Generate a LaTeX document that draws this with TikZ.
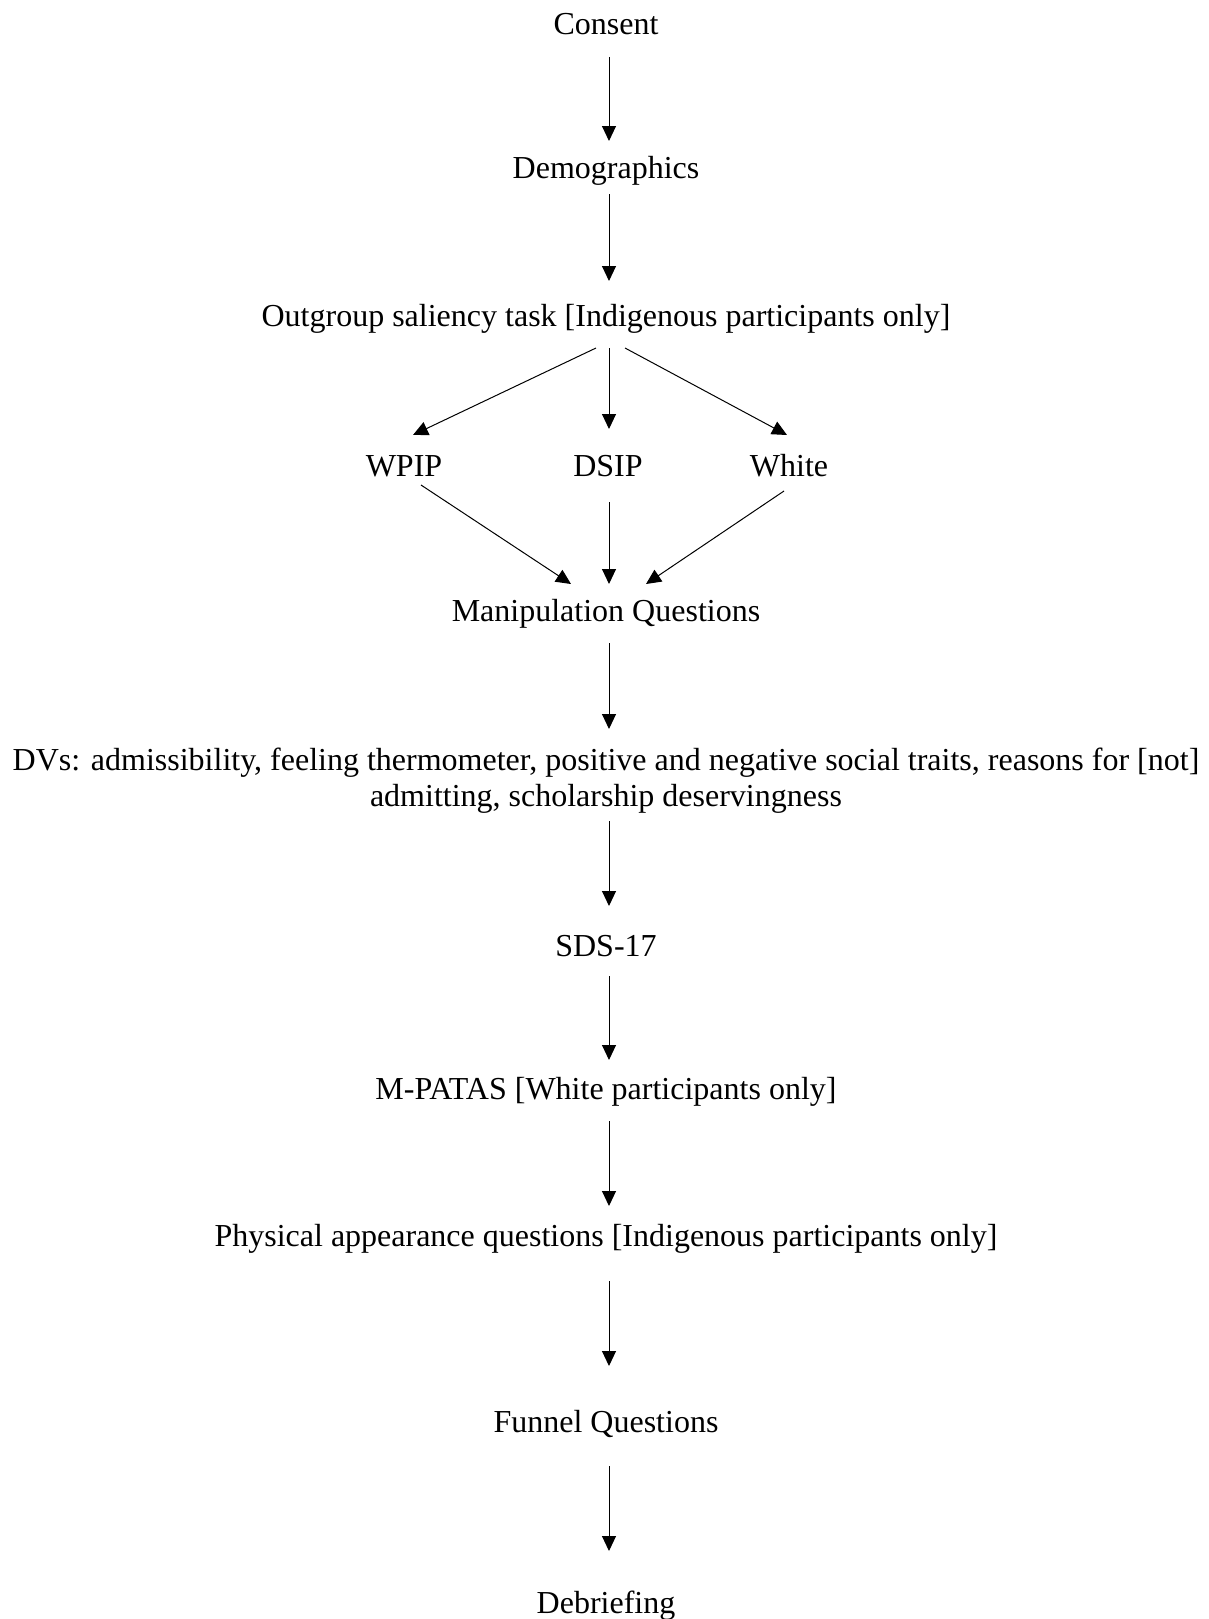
\documentclass[tikz,border=0pt]{standalone}
\usepackage{fontspec}
\setmainfont{Liberation Serif}
\usetikzlibrary{arrows.meta,calc}
\begin{document}
\begin{tikzpicture}[x=1pt,y=-1pt,
  lbl/.style={inner sep=0pt,font=\fontsize{32}{36}\selectfont,align=center},
  arr/.style={line width=1pt,-{Triangle[length=15pt,width=14pt]}}]
\useasboundingbox (0,0) rectangle (1208,1619);
\node[lbl] (consent) at (606,24) {Consent};
\node[lbl] (demo) at (606,171) {Demographics};
\node[lbl] (out) at (606,319) {Outgroup saliency task [Indigenous participants only]};
\node[lbl] (wpip) at (404,466) {WPIP};
\node[lbl] (dsip) at (608,466) {DSIP};
\node[lbl] (white) at (789,466) {White};
\node[lbl] (manip) at (606,614) {Manipulation Questions};
\node[lbl] (dvs) at (606,781) {DVs: admissibility, feeling thermometer, positive and negative social traits, reasons for [not]\\admitting, scholarship deservingness};
\node[lbl] (sds) at (606,946) {SDS-17};
\node[lbl] (mpatas) at (606,1092) {M-PATAS [White participants only]};
\node[lbl] (phys) at (606,1239) {Physical appearance questions [Indigenous participants only]};
\node[lbl] (funnel) at (606,1424) {Funnel Questions};
\node[lbl] (debrief) at (606,1606) {Debriefing};

\draw[arr] ($(consent)+(3,33)$) -- ($(demo)+(3,-30)$);
\draw[arr] ($(demo)+(3,23)$) -- ($(out)+(3,-38)$);
\draw[arr] ($(out)+(-10,29)$) -- ($(wpip)+(9,-31)$);
\draw[arr] ($(out)+(3,29)$) -- ($(dsip)+(1,-37)$);
\draw[arr] ($(out)+(19,29)$) -- ($(white)+(-2,-31)$);
\draw[arr] ($(wpip)+(17,19)$) -- ($(manip)+(-35,-30)$);
\draw[arr] ($(dsip)+(1,36)$) -- ($(manip)+(3,-30)$);
\draw[arr] ($(white)+(-5,25)$) -- ($(manip)+(40,-30)$);
\draw[arr] ($(manip)+(3,29)$) -- ($(dvs)+(3,-52)$);
\draw[arr] ($(dvs)+(3,40)$) -- ($(sds)+(3,-40)$);
\draw[arr] ($(sds)+(3,30)$) -- ($(mpatas)+(3,-32)$);
\draw[arr] ($(mpatas)+(3,29)$) -- ($(phys)+(3,-33)$);
\draw[arr] ($(phys)+(3,42)$) -- ($(funnel)+(3,-58)$);
\draw[arr] ($(funnel)+(3,42)$) -- ($(debrief)+(3,-55)$);
\end{tikzpicture}
\end{document}
